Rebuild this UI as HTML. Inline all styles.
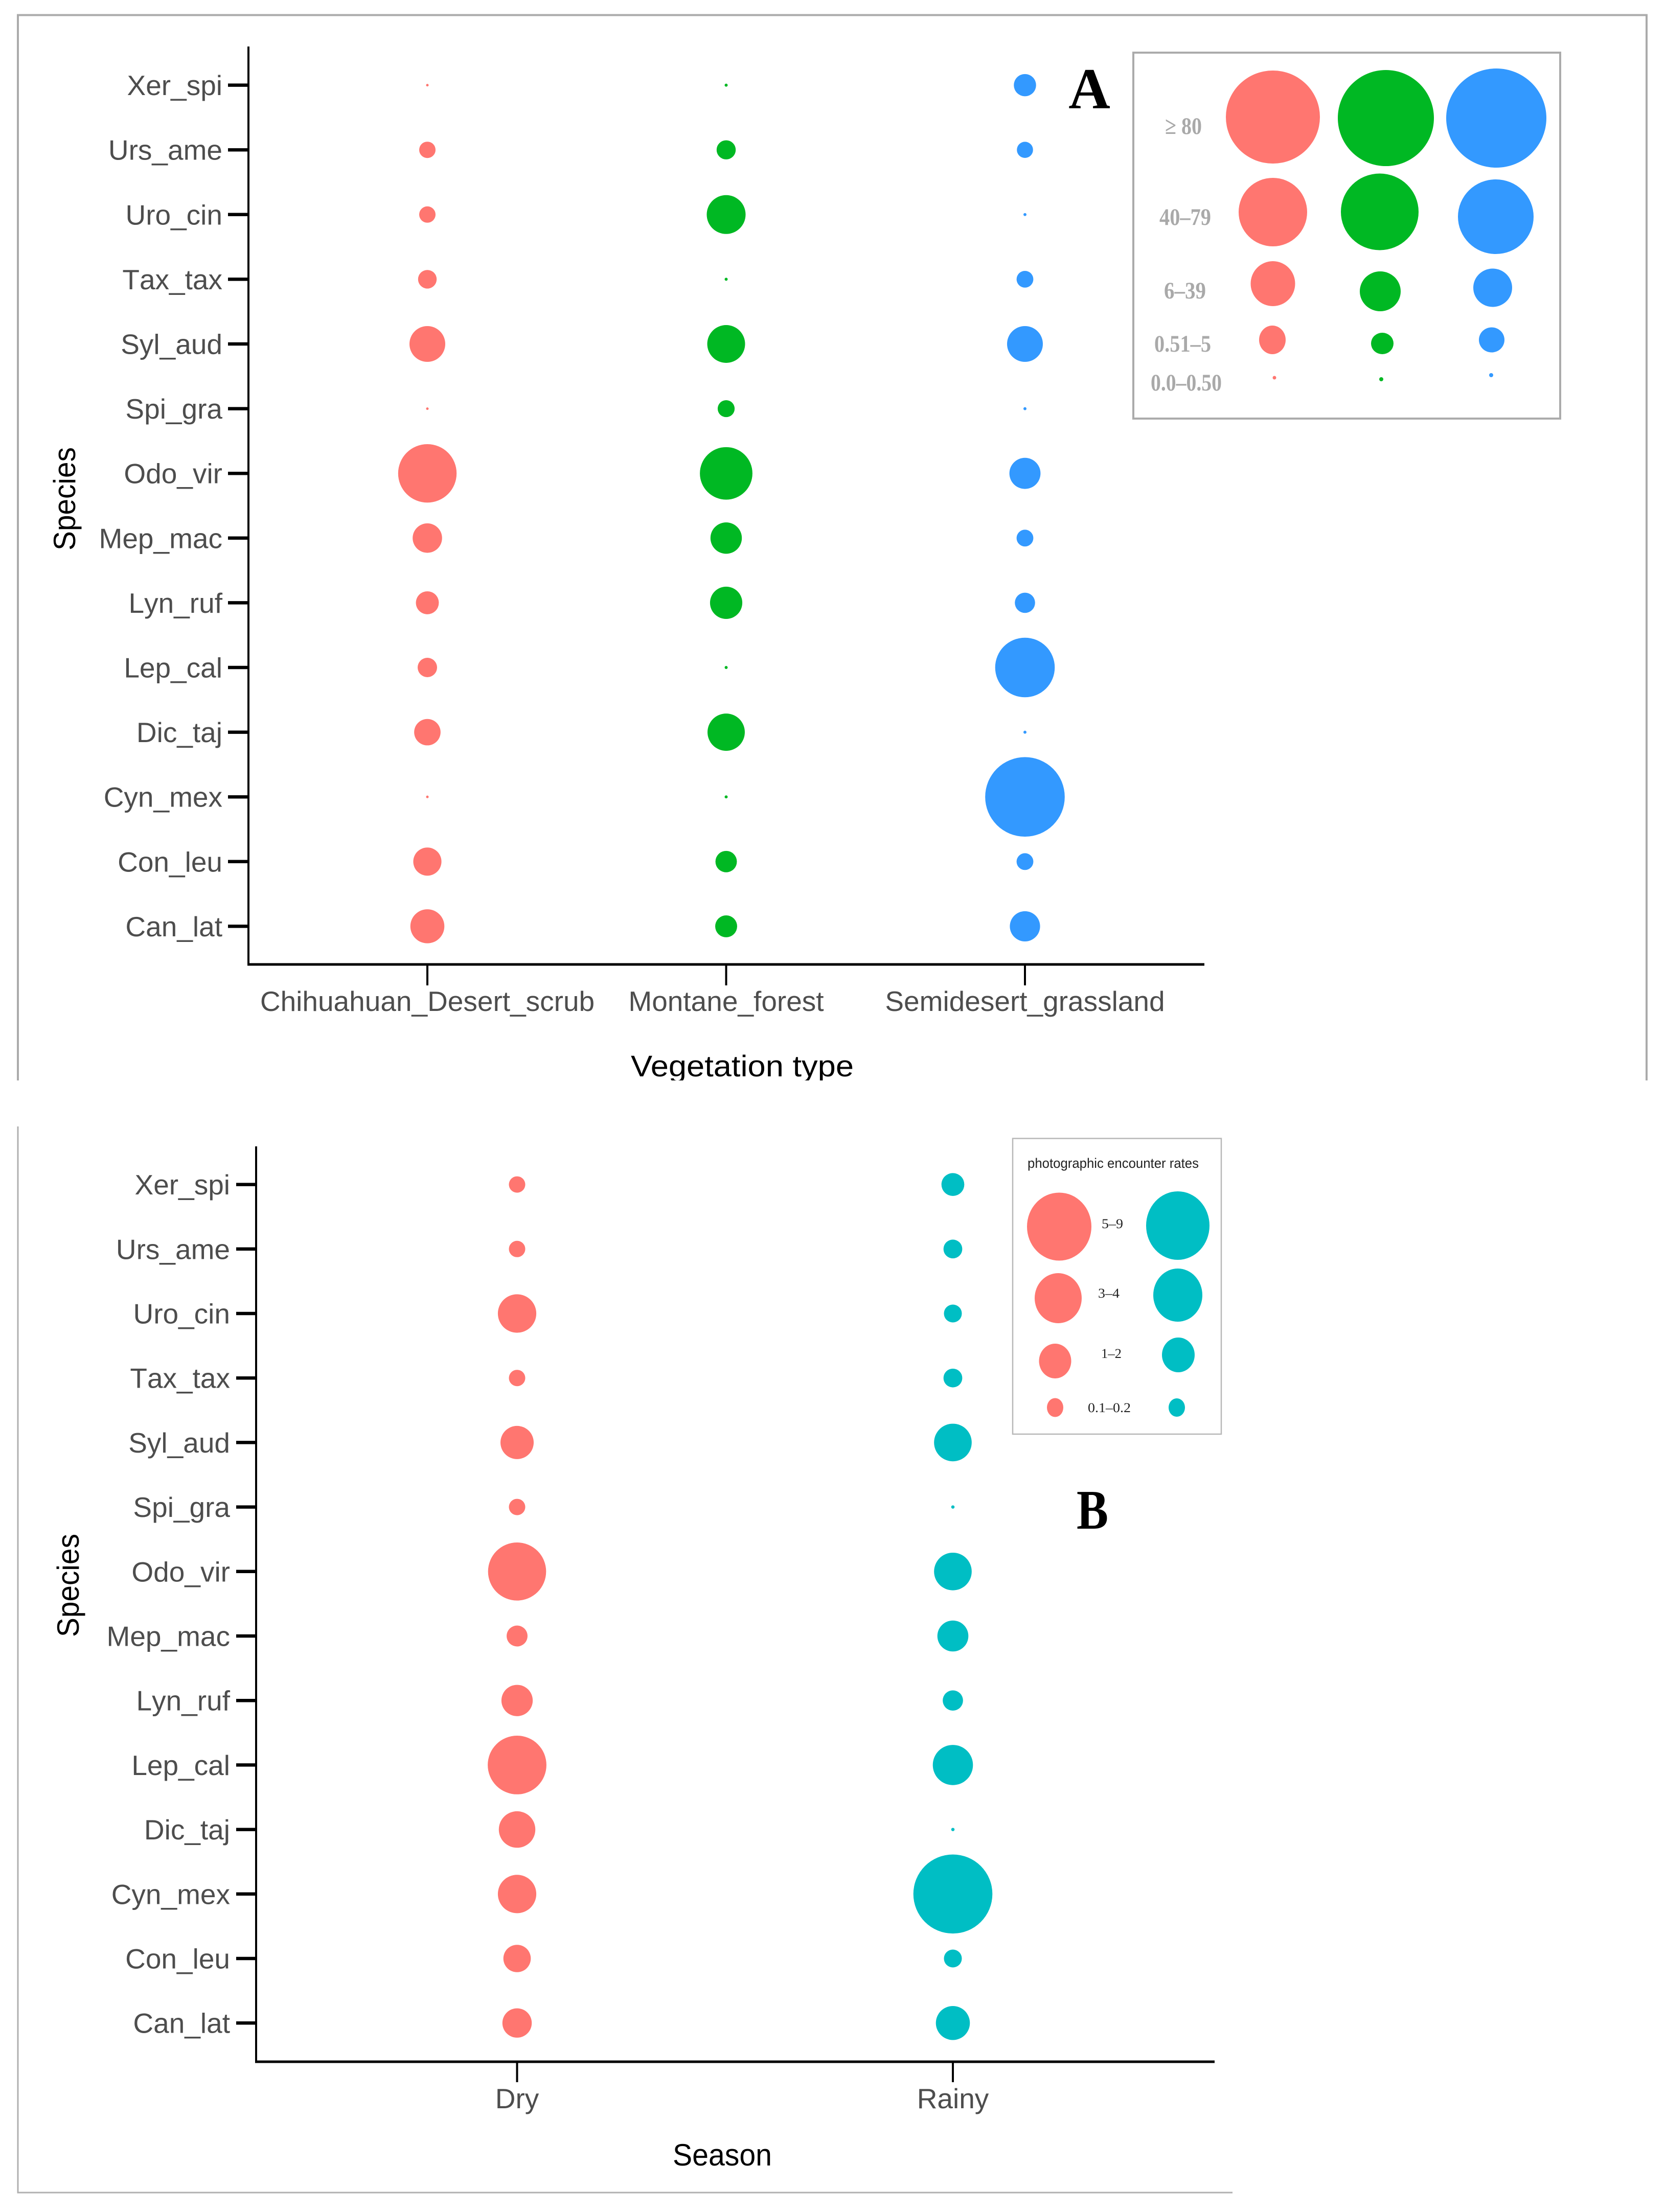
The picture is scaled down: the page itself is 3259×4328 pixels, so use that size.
<!DOCTYPE html>
<html lang="en">
<head>
<meta charset="utf-8">
<title>Species encounter rates by vegetation type and season</title>
<style>
html,body{margin:0;padding:0;background:#fff}
svg{display:block}
text{font-family:"Liberation Sans",sans-serif}
.serif{font-family:"Liberation Serif",serif}
.tick{font-size:55px;fill:#4d4d4d;font-kerning:none}
.title{font-size:60px;fill:#000}
.la{font-size:47px;font-weight:bold;fill:#a9a9a9}
.lb{font-size:26px;fill:#222}
</style>
</head>
<body>
<svg id="figure" xmlns="http://www.w3.org/2000/svg" width="3259" height="4328" viewBox="0 0 3259 4328">
  <rect x="0" y="0" width="3259" height="4328" fill="#fff"/>

  <path d="M35 2114V29.5H3221V2114" fill="none" stroke="#ababab" stroke-width="4"/>
  <path d="M35 2204V4290H2411" fill="none" stroke="#b0b0b0" stroke-width="3"/>

  <g id="panel-a">
    <line x1="486" y1="91" x2="486" y2="1889" stroke="#000" stroke-width="4"/>
    <line x1="484" y1="1887" x2="2356" y2="1887" stroke="#000" stroke-width="5"/>
    <text class="title" transform="translate(147,976) rotate(-90)" text-anchor="middle" textLength="202" lengthAdjust="spacingAndGlyphs">Species</text>
    <text class="title" x="1234" y="2106" font-size="58" style="font-size:58px" textLength="436" lengthAdjust="spacingAndGlyphs">Vegetation type</text>
    <rect x="0" y="2114" width="3259" height="90" fill="#fff"/>
  </g>

  <g id="panel-b">
    <line x1="501" y1="2243" x2="501" y2="4036" stroke="#000" stroke-width="4"/>
    <line x1="499" y1="4034" x2="2376" y2="4034" stroke="#000" stroke-width="5"/>
    <text class="title" transform="translate(154,3102) rotate(-90)" text-anchor="middle" textLength="202" lengthAdjust="spacingAndGlyphs">Species</text>
    <text class="title" x="1316" y="4237" textLength="194" lengthAdjust="spacingAndGlyphs">Season</text>
  </g>

  <text class="serif" x="2131" y="212" text-anchor="middle" font-weight="bold" font-size="113" fill="#000">A</text>
  <text class="serif" x="2106" y="2991" font-weight="bold" font-size="109" fill="#000" textLength="62" lengthAdjust="spacingAndGlyphs">B</text>

  <g>
    <rect x="2217" y="103" width="835" height="716" fill="#fff" stroke="#ababab" stroke-width="4"/>
    <text class="serif la" x="2279" y="262" textLength="72" lengthAdjust="spacingAndGlyphs">≥ 80</text>
    <text class="serif la" x="2268" y="440" textLength="101" lengthAdjust="spacingAndGlyphs">40–79</text>
    <text class="serif la" x="2277" y="584" textLength="82" lengthAdjust="spacingAndGlyphs">6–39</text>
    <text class="serif la" x="2258" y="688" textLength="111" lengthAdjust="spacingAndGlyphs">0.51–5</text>
    <text class="serif la" x="2251" y="764" textLength="139" lengthAdjust="spacingAndGlyphs">0.0–0.50</text>
    <g fill="#ff7670">
      <ellipse cx="2490" cy="229" rx="92" ry="91"/>
      <ellipse cx="2490" cy="415" rx="67" ry="67"/>
      <ellipse cx="2490" cy="555" rx="43.5" ry="44"/>
      <ellipse cx="2489" cy="665" rx="26" ry="28"/>
      <circle cx="2493" cy="739" r="3.5"/>
    </g>
    <g fill="#00b823">
      <ellipse cx="2711" cy="231" rx="94" ry="94"/>
      <ellipse cx="2699" cy="414.5" rx="76" ry="75"/>
      <ellipse cx="2700" cy="570" rx="40" ry="39"/>
      <ellipse cx="2704" cy="672" rx="22" ry="21"/>
      <circle cx="2702" cy="742" r="4"/>
    </g>
    <g fill="#3399ff">
      <ellipse cx="2927" cy="231" rx="98" ry="97"/>
      <ellipse cx="2926" cy="424" rx="74" ry="73"/>
      <ellipse cx="2920" cy="563" rx="38" ry="37.5"/>
      <ellipse cx="2918" cy="665" rx="25" ry="24.5"/>
      <circle cx="2917" cy="734" r="4"/>
    </g>
  </g>

  <g>
    <rect x="1981" y="2227.5" width="408" height="578.5" fill="#fff" stroke="#b8b8b8" stroke-width="2.5"/>
    <text x="2010" y="2285" font-size="27" fill="#222" textLength="335" lengthAdjust="spacingAndGlyphs">photographic encounter rates</text>
    <text class="serif lb" x="2155" y="2403" textLength="42" lengthAdjust="spacingAndGlyphs">5–9</text>
    <text class="serif lb" x="2148" y="2539" textLength="42" lengthAdjust="spacingAndGlyphs">3–4</text>
    <text class="serif lb" x="2154" y="2657" textLength="40" lengthAdjust="spacingAndGlyphs">1–2</text>
    <text class="serif lb" x="2128" y="2763" textLength="84" lengthAdjust="spacingAndGlyphs">0.1–0.2</text>
    <g fill="#ff7670">
      <ellipse cx="2072" cy="2400" rx="63" ry="66.5"/>
      <ellipse cx="2070" cy="2540" rx="46" ry="49"/>
      <ellipse cx="2064" cy="2663" rx="31.5" ry="34"/>
      <ellipse cx="2064" cy="2754" rx="16" ry="18.5"/>
    </g>
    <g fill="#00bec4">
      <ellipse cx="2304" cy="2398" rx="62" ry="67"/>
      <ellipse cx="2304" cy="2534" rx="48" ry="52"/>
      <ellipse cx="2305" cy="2651" rx="32" ry="34"/>
      <ellipse cx="2302" cy="2754" rx="16" ry="18"/>
    </g>
  </g>
</svg>

<script>
// Categories
const species = ["Xer_spi","Urs_ame","Uro_cin","Tax_tax","Syl_aud","Spi_gra","Odo_vir","Mep_mac","Lyn_ruf","Lep_cal","Dic_taj","Cyn_mex","Con_leu","Can_lat"];
const vegetationTypes = ["Chihuahuan_Desert_scrub","Montane_forest","Semidesert_grassland"];
const seasons = ["Dry","Rainy"];

// Panel A series: encounter rate per species
const desertScrubRates = [0.15,6.06,6.06,7.84,29,0.15,77.4,19.6,11.9,8.54,15.8,0.15,18,26.2];
const montaneForestRates = [0.21,8.28,34.2,0.21,32.4,6.5,62.5,22.3,23.6,0.21,31.5,0.21,10.4,10.9];
const grasslandRates = [11.2,5.9,0.21,6.37,29,0.21,21.9,6.37,9.28,80.4,0.21,143.3,6.37,20.7];

// Panel B series
const dryRates = [0.41,0.41,2.26,0.41,1.69,0.41,5.16,0.67,1.5,5.27,2.04,2.26,1.15,1.32];
const rainyRates = [0.8,0.54,0.49,0.54,2.17,0.017,2.17,1.47,0.63,2.47,0.017,9.56,0.49,1.77];

const NS = "http://www.w3.org/2000/svg";

function svgEl(tag, parent) {
  const el = document.createElementNS(NS, tag);
  parent.appendChild(el);
  return el;
}

// Axis functions
function yA(i) { return 166.6 + 126.6 * i; }
function xA(j) { return 836 + 584.5 * j; }
function rA(v) { return 6.5 * Math.sqrt(v); }
function yB(i) { return 2317.6 + 126.2 * i; }
function xB(j) { return 1011.5 + 852.5 * j; }
function rB(v) { return 25 * Math.sqrt(v); }

function drawYAxis(group, yFn, tickLeft, tickRight, labelRight) {
  species.forEach(function (name, i) {
    const tick = svgEl("line", group);
    
    
    tick.setAttribute("x1", tickLeft);
    tick.setAttribute("x2", tickRight);
    tick.setAttribute("y1", yFn(i));
    tick.setAttribute("y2", yFn(i));
    tick.setAttribute("stroke", "#000");
    tick.setAttribute("stroke-width", "6.5");
    const label = svgEl("text", group);
    
    
    label.setAttribute("class", "tick");
    label.setAttribute("x", labelRight);
    label.setAttribute("y", yFn(i) + 19.5);
    label.setAttribute("text-anchor", "end");
    label.textContent = name;
  });
}

function drawXAxis(group, categories, xFn, axisY, tickBottom, baseline) {
  categories.forEach(function (name, j) {
    const tick = svgEl("line", group);
    
    
    tick.setAttribute("x1", xFn(j));
    tick.setAttribute("x2", xFn(j));
    tick.setAttribute("y1", axisY);
    tick.setAttribute("y2", tickBottom);
    tick.setAttribute("stroke", "#000");
    tick.setAttribute("stroke-width", "4");
    const label = svgEl("text", group);
    
    
    label.setAttribute("class", "tick");
    label.setAttribute("x", xFn(j));
    label.setAttribute("y", baseline);
    label.setAttribute("text-anchor", "middle");
    label.textContent = name;
  });
}

function drawSeries(group, seriesName, values, colour, x, yFn, rFn) {
  values.forEach(function (value, i) {
    const bubble = svgEl("circle", group);
    
    
    bubble.setAttribute("cx", x);
    bubble.setAttribute("cy", yFn(i));
    bubble.setAttribute("r", rFn(value));
    bubble.setAttribute("fill", colour);
  });
}

const panelA = document.getElementById("panel-a");
const panelB = document.getElementById("panel-b");

drawYAxis(panelA, yA, 446, 486, 435);
drawXAxis(panelA, vegetationTypes, xA, 1887, 1928, 1978);
drawSeries(panelA, "desert-scrub", desertScrubRates, "#ff7670", xA(0), yA, rA);
drawSeries(panelA, "montane-forest", montaneForestRates, "#00b823", xA(1), yA, rA);
drawSeries(panelA, "semidesert-grassland", grasslandRates, "#3399ff", xA(2), yA, rA);

drawYAxis(panelB, yB, 462, 501, 450);
drawXAxis(panelB, seasons, xB, 4034, 4074, 4125);
drawSeries(panelB, "dry", dryRates, "#ff7670", xB(0), yB, rB);
drawSeries(panelB, "rainy", rainyRates, "#00bec4", xB(1), yB, rB);
</script>
</body>
</html>
